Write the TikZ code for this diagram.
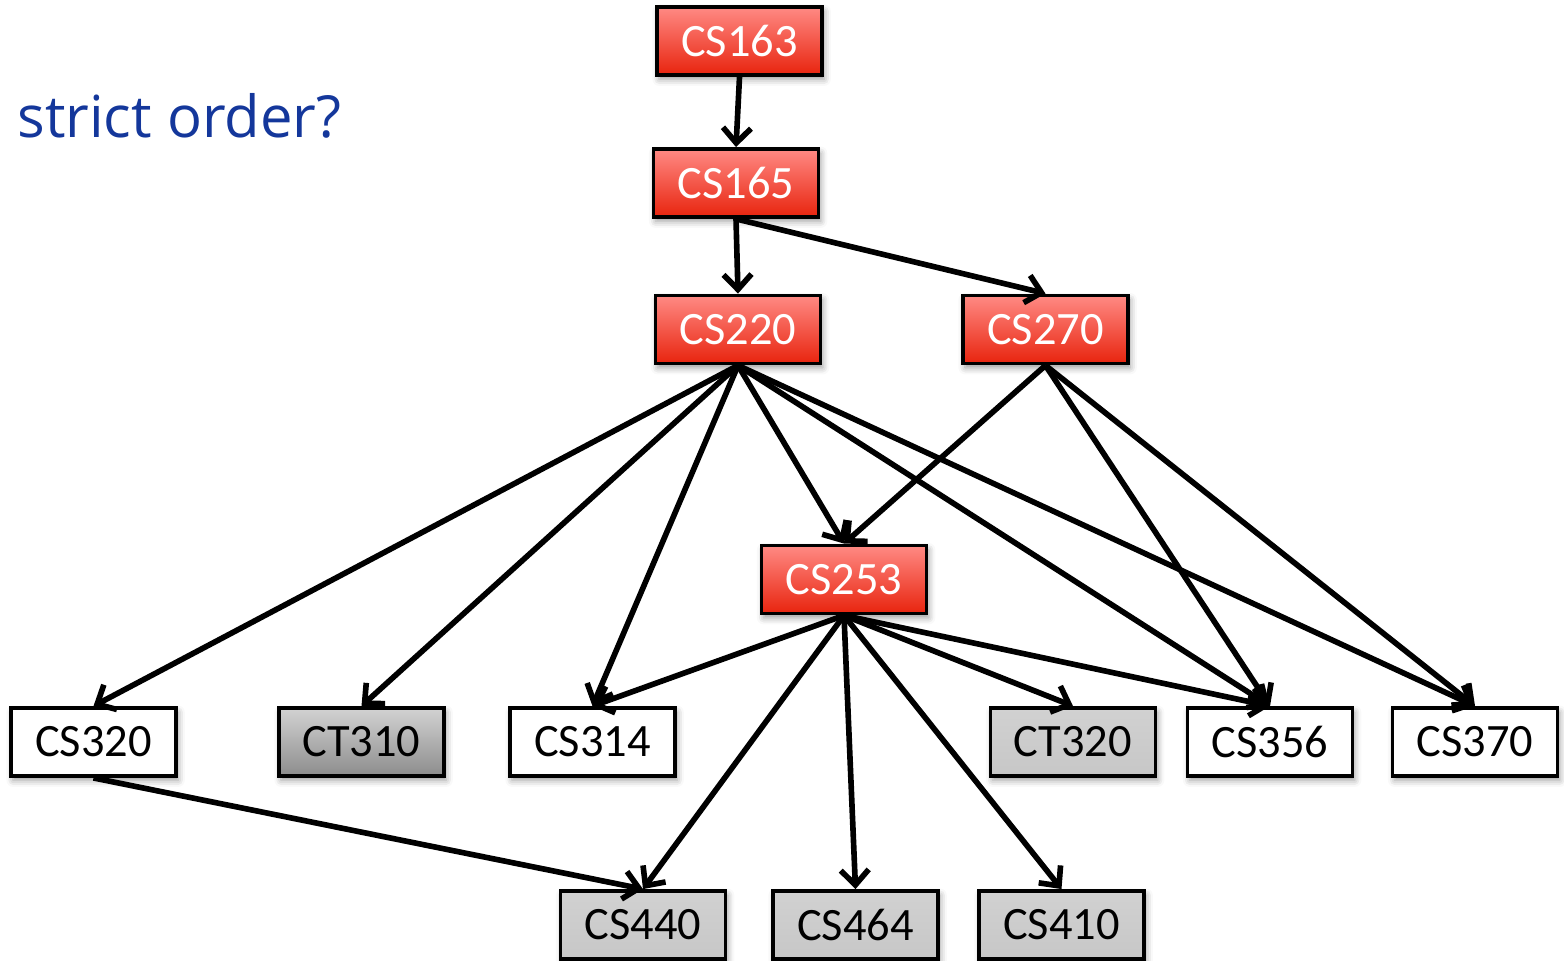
\documentclass[tikz,border=0pt]{standalone}
\usepackage{fontspec}
\setmainfont{Carlito}
\newfontfamily\notefont{Open Sans}
\usepackage{tikz}
\usetikzlibrary{arrows.meta, positioning, calc, shadows.blur}
\definecolor{redtop}    {RGB}{255, 138, 132}
\definecolor{redbot}    {RGB}{232,  36,  14}
\definecolor{noteblue}  {RGB}{ 20,  55, 155}
\tikzset{
	course/.style={draw=black, line width=1.1pt, minimum width=16.5mm, minimum height=6.8mm,
		inner sep=0pt, font=\fontsize{13.2}{15}\selectfont,
		blur shadow={shadow xshift=0.6pt, shadow yshift=-1.2pt, shadow blur steps=4, shadow opacity=40}},
	redbox/.style={course, top color=redtop, bottom color=redbot, text=white},
	whitebox/.style={course, fill=white},
	graybox/.style={course, top color=gray!36, bottom color=gray!44},
	darkbox/.style={course, top color=gray!35, bottom color=gray!90},
	prereq/.style={line width=1.6pt, -{Straight Barb[length=1.5mm, width=2.8mm, line width=1.6pt]}}
}

\begin{document}
\begin{tikzpicture}[x=0.1mm, y=-0.1mm]
	\useasboundingbox (0,0) rectangle (1564,961);
	\node[anchor=base east, inner sep=0pt, text=noteblue, font=\notefont\fontsize{16.5}{18}\selectfont] (note) at (342,138) {a strict order?};
	\node[redbox] (cs163) at (739.5,41) {CS163};
	\node[redbox] (cs165) at (736,183) {CS165};
	\node[redbox] (cs220) at (738,329.5) {CS220};
	\node[redbox] (cs270) at (1045.5,329.5) {CS270};
	\node[redbox] (cs253) at (844,579.5) {CS253};
	\node[whitebox] (cs320) at (93.5,742) {CS320};
	\node[darkbox] (ct310) at (361.5,742) {CT310};
	\node[whitebox] (cs314) at (592.5,742) {CS314};
	\node[graybox] (ct320) at (1073,742) {CT320};
	\node[whitebox] (cs356) at (1270,742) {CS356};
	\node[whitebox] (cs370) at (1475,742) {CS370};
	\node[graybox] (cs440) at (643,925) {CS440};
	\node[graybox] (cs464) at (855.5,925) {CS464};
	\node[graybox] (cs410) at (1061.5,925) {CS410};
	\draw[prereq] (cs163.south) -- (cs165.north);
	\draw[prereq] (cs165.south) -- (cs220.north);
	\draw[prereq] (cs165.south) -- (cs270.north);
	\foreach \to in {cs320, ct310, cs314, cs253, cs356, cs370}
		\draw[prereq] (cs220.south) -- (\to.north);
	\foreach \to in {cs253, cs356, cs370}
		\draw[prereq] (cs270.south) -- (\to.north);
	\foreach \to in {cs314, cs440, cs464, cs410, ct320, cs356}
		\draw[prereq] (cs253.south) -- (\to.north);
	\draw[prereq] (cs320.south) -- (cs440.north);
\end{tikzpicture}
\end{document}
